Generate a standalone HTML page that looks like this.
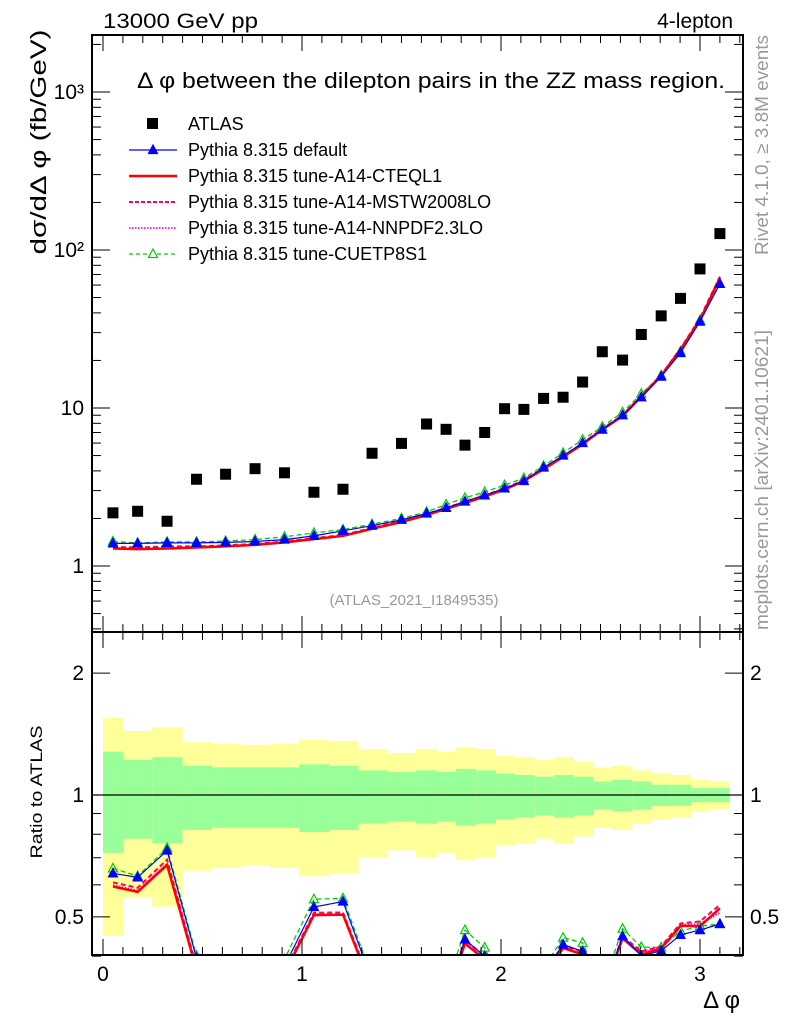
<!DOCTYPE html>
<html><head><meta charset="utf-8"><style>
html,body{margin:0;padding:0;background:#fff;}
svg{display:block;font-family:"Liberation Sans",sans-serif;}
</style></head><body>
<svg id="chart" width="786" height="1024" viewBox="0 0 786 1024" xmlns="http://www.w3.org/2000/svg">
<defs>
<clipPath id="clipMain"><rect x="92" y="35" width="651" height="597"/></clipPath>
<clipPath id="clipRatio"><rect x="92" y="632" width="651" height="323"/></clipPath>
</defs>
<g id="bands" clip-path="url(#clipRatio)"></g>
<g id="main" clip-path="url(#clipMain)"></g>
<g id="ratio" clip-path="url(#clipRatio)"></g>
<g id="axes"></g>
<text x="103" y="28" font-size="21" textLength="155" lengthAdjust="spacingAndGlyphs">13000 GeV pp</text>
<text x="733" y="28" font-size="21" text-anchor="end">4-lepton</text>
<text x="137" y="88" font-size="22" textLength="588" lengthAdjust="spacingAndGlyphs">Δ φ between the dilepton pairs in the ZZ mass region.</text>
<text x="414" y="605" font-size="15" fill="#999" text-anchor="middle">(ATLAS_2021_I1849535)</text>
<text transform="translate(768,145) rotate(-90)" font-size="18" fill="#999" text-anchor="middle" textLength="220" lengthAdjust="spacingAndGlyphs">Rivet 4.1.0, ≥ 3.8M events</text>
<text transform="translate(768,480) rotate(-90)" font-size="18" fill="#999" text-anchor="middle" textLength="300" lengthAdjust="spacingAndGlyphs">mcplots.cern.ch [arXiv:2401.10621]</text>
<text transform="translate(46,142) rotate(-90)" font-size="22" text-anchor="middle" textLength="225" lengthAdjust="spacingAndGlyphs">dσ/dΔ φ (fb/GeV)</text>
<text transform="translate(42,792) rotate(-90)" font-size="17" text-anchor="middle" textLength="133" lengthAdjust="spacingAndGlyphs">Ratio to ATLAS</text>
<text x="740" y="1008" font-size="24" text-anchor="end">Δ φ</text>
<g id="legend"></g>
</svg>
<script>
const binEdges=[0,0.104,0.248,0.40,0.548,0.696,0.839,0.986,1.14,1.284,1.43,1.573,1.68,1.774,1.876,1.975,2.07,2.17,2.267,2.367,2.464,2.558,2.66,2.756,2.853,2.955,3.05,3.149];
const binCenters=[0.05,0.174,0.322,0.47,0.616,0.764,0.912,1.06,1.206,1.352,1.5,1.626,1.724,1.819,1.918,2.018,2.115,2.214,2.312,2.41,2.509,2.611,2.705,2.805,2.902,3.0,3.1];
const atlas=[2.17,2.22,1.92,3.54,3.81,4.13,3.89,2.93,3.06,5.17,5.97,7.92,7.33,5.82,7.0,9.9,9.8,11.5,11.7,14.6,22.7,20.1,29.2,38.3,49.4,75.9,127];
const yellowUp=[1.55,1.44,1.47,1.35,1.34,1.33,1.34,1.37,1.36,1.30,1.27,1.30,1.28,1.31,1.30,1.25,1.24,1.22,1.24,1.21,1.17,1.18,1.15,1.13,1.12,1.09,1.08];
const greenUp=[1.28,1.22,1.24,1.18,1.17,1.17,1.17,1.19,1.18,1.15,1.14,1.15,1.14,1.16,1.15,1.13,1.12,1.11,1.12,1.11,1.08,1.09,1.08,1.06,1.06,1.04,1.04];
const mcDefault=[1.39,1.39,1.40,1.40,1.41,1.43,1.47,1.55,1.67,1.80,1.96,2.15,2.33,2.56,2.80,3.10,3.45,4.20,5.0,6.0,7.3,9.0,11.7,15.8,22.3,35.2,61];
const mcCTEQ=[1.29,1.28,1.29,1.31,1.33,1.36,1.41,1.48,1.55,1.72,1.90,2.10,2.30,2.50,2.75,3.05,3.45,4.1,4.9,5.9,7.3,8.9,11.8,16.0,23.5,36.0,66.7];
const mcMSTW=[1.32,1.31,1.33,1.33,1.35,1.38,1.43,1.50,1.57,1.74,1.93,2.13,2.34,2.55,2.80,3.10,3.50,4.15,4.95,6.0,7.4,9.0,12.0,16.2,23.8,37,68];
const mcNNPDF=[1.30,1.29,1.30,1.32,1.34,1.37,1.42,1.49,1.55,1.72,1.91,2.11,2.32,2.52,2.77,3.07,3.47,4.12,4.9,5.95,7.35,8.95,11.9,16.1,23.6,36.5,65];
const mcCUETP=[1.43,1.40,1.42,1.42,1.44,1.47,1.53,1.62,1.70,1.84,2.0,2.2,2.45,2.70,2.94,3.25,3.6,4.3,5.2,6.3,7.6,9.4,12.3,16.1,22.8,36,61];
const xTicks=[0,1,2,3];
const yTicks=[1,10,100,1000];
const yTickLabels=["1","10","10²","10³"];
const rTicks=[0.5,1,2];

const NS="http://www.w3.org/2000/svg";
const X=v=>103+v*199;
const Y=v=>566-Math.log10(v)*158;
const R=v=>795-Math.log10(v)*405;
function mk(tag,attrs,parent){const e=document.createElementNS(NS,tag);for(const k in attrs)e.setAttribute(k,attrs[k]);parent.appendChild(e);return e;}
const gMain=document.getElementById('main'),gRatio=document.getElementById('ratio'),gBands=document.getElementById('bands'),gAxes=document.getElementById('axes'),gLeg=document.getElementById('legend');

for(let i=0;i<binCenters.length;i++){
  const x0=X(binEdges[i]),x1=X(binEdges[i+1]);
  let yu=yellowUp[i],yl=2-yellowUp[i];
  let e=mk('rect',{x:x0,y:R(yu),width:x1-x0,height:R(yl)-R(yu),fill:'#ffff99'},gBands);
  
  
  let gu=greenUp[i],gl=2-greenUp[i];
  e=mk('rect',{x:x0,y:R(gu),width:x1-x0,height:R(gl)-R(gu),fill:'#99ff99'},gBands);
  
  
}
mk('line',{x1:92,x2:743,y1:R(1),y2:R(1),stroke:'#000','stroke-width':1.2},gBands);

function tri(g,x,y,col,filled,name){
  const e=mk('path',{d:`M${x},${y-5} L${x+4.5},${y+3.5} L${x-4.5},${y+3.5} Z`,fill:filled?col:'none',stroke:col,'stroke-width':1.2},g);
  
  
}
const series=[
 {d:mcCUETP,col:'#00cc00',w:1.3,dash:'5,3',mark:'open',name:'cuetp8s1'},
 {d:mcNNPDF,col:'#ff00ff',w:1.8,dash:'1.5,1.5',mark:null,name:'a14-nnpdf'},
 {d:mcMSTW,col:'#ff0066',w:2,dash:'5,3',mark:null,name:'a14-mstw'},
 {d:mcCTEQ,col:'#ff0000',w:2.5,dash:null,mark:null,name:'a14-cteql1'},
 {d:mcDefault,col:'#0000ff',w:1.2,dash:null,mark:'filled',name:'default'}
];
series.forEach(s=>{
  let pm=s.d.map((v,i)=>X(binCenters[i]).toFixed(1)+','+Y(v).toFixed(1)).join(' ');
  let pr=s.d.map((v,i)=>X(binCenters[i]).toFixed(1)+','+R(v/atlas[i]).toFixed(1)).join(' ');
  const a={fill:'none',stroke:s.col,'stroke-width':s.w};if(s.dash)a['stroke-dasharray']=s.dash;
  let l=mk('polyline',Object.assign({points:pm},a),gMain);
  
  
  l=mk('polyline',Object.assign({points:pr},a),gRatio);
  
  
  if(s.mark){s.d.forEach((v,i)=>{tri(gMain,X(binCenters[i]),Y(v),s.col,s.mark==='filled','marker-'+s.name);tri(gRatio,X(binCenters[i]),R(v/atlas[i]),s.col,s.mark==='filled','ratio-marker-'+s.name);});}
});
atlas.forEach((v,i)=>{
  const e=mk('rect',{x:X(binCenters[i])-5.5,y:Y(v)-5.5,width:11,height:11,fill:'#000'},gMain);
  
  
});

[[35,597],[632,323]].forEach(([y,h])=>mk('rect',{x:92,y:y,width:651,height:h,fill:'none',stroke:'#000','stroke-width':2},gAxes));
for(let k=0;k<=32;k++){
  const v=k/10,x=X(v),maj=k%10===0,len=maj?16:8;
  [[632,-1],[955,-1],[35,1],[632,1]].forEach(([yb,dir])=>{
    mk('line',{x1:x,x2:x,y1:yb,y2:yb+dir*len,stroke:'#000','stroke-width':1},gAxes);
  });
}
xTicks.forEach(v=>{
  const t=mk('text',{x:X(v),y:981,'font-size':21,'text-anchor':'middle'},gAxes);t.textContent=v;
  
  
});
for(let d=-1;d<=3;d++){for(let m=1;m<10;m++){
  const v=m*Math.pow(10,d),y=Y(v);if(y<35||y>632)continue;const len=m===1?18:9;
  mk('line',{x1:92,x2:92+len,y1:y,y2:y,stroke:'#000'},gAxes);
  mk('line',{x1:743,x2:743-len,y1:y,y2:y,stroke:'#000'},gAxes);
}}
yTicks.forEach((v,i)=>{
  const t=mk('text',{x:84,y:Y(v)+7,'font-size':21,'text-anchor':'end'},gAxes);t.textContent=yTickLabels[i];
  
  
});
[0.4,0.5,0.6,0.7,0.8,0.9,1,2].forEach(v=>{
  const y=R(v),len=(v===0.5||v===1||v===2)?18:9;
  mk('line',{x1:92,x2:92+len,y1:y,y2:y,stroke:'#000'},gAxes);
  mk('line',{x1:743,x2:743-len,y1:y,y2:y,stroke:'#000'},gAxes);
});
rTicks.forEach(v=>{
  let t=mk('text',{x:84,y:R(v)+7,'font-size':21,'text-anchor':'end'},gAxes);t.textContent=v;
  
  
  t=mk('text',{x:750,y:R(v)+7,'font-size':21},gAxes);t.textContent=v;
  
  
});
const leg=[
 {t:'ATLAS',type:'sq'},
 {t:'Pythia 8.315 default',col:'#0000ff',w:1.2,dash:null,m:'filled'},
 {t:'Pythia 8.315 tune-A14-CTEQL1',col:'#ff0000',w:2.5,dash:null},
 {t:'Pythia 8.315 tune-A14-MSTW2008LO',col:'#ff0066',w:2,dash:'4,2'},
 {t:'Pythia 8.315 tune-A14-NNPDF2.3LO',col:'#ff00ff',w:1.8,dash:'1.5,1.5'},
 {t:'Pythia 8.315 tune-CUETP8S1',col:'#00cc00',w:1.3,dash:'4,3',m:'open'}
];
leg.forEach((L,i)=>{
  const y=124+i*26;
  const g=mk('g',{},gLeg);
  
  
  if(L.type==='sq'){mk('rect',{x:147,y:y-6,width:11,height:11,fill:'#000'},g);}
  else{const a={x1:129,x2:177,y1:y,y2:y,stroke:L.col,'stroke-width':L.w};if(L.dash)a['stroke-dasharray']=L.dash;mk('line',a,g);
    if(L.m){mk('path',{d:`M153,${y-5} L157.5,${y+3.5} L148.5,${y+3.5} Z`,fill:L.m==='filled'?L.col:'#fff',stroke:L.col,'stroke-width':1.2},g);}}
  const t=mk('text',{x:188,y:y+6,'font-size':18},g);t.textContent=L.t;
});
</script>
</body></html>
